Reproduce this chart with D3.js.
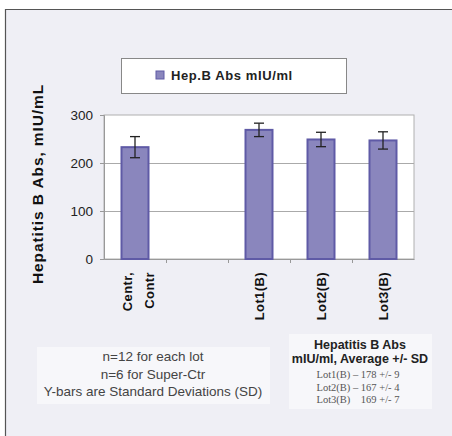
<!DOCTYPE html>
<html>
<head>
<meta charset="utf-8">
<script src="https://cdn.jsdelivr.net/npm/d3@7/dist/d3.min.js"></script>
<style>
  body { margin: 0; background: #fff; }
  svg { display: block; font-family: "Liberation Sans", Arial, sans-serif; }
</style>
</head>
<body>
<div id="chart"></div>
<script>
// data
const categories = ["Centr,\nContr", "", "Lot1(B)", "Lot2(B)", "Lot3(B)"];
const values = [233, null, 269, 249, 247];
const errors = [22, null, 14, 15, 18];
const yTicks = [0, 100, 200, 300];
const legendLabel = "Hep.B Abs mIU/ml";
const yLabel = "Hepatitis B Abs, mIU/mL";
const noteLines = ["n=12 for each lot", "n=6 for Super-Ctr", "Y-bars are Standard Deviations (SD)"];
const summaryTitle = ["Hepatitis B Abs", "mIU/ml, Average +/- SD"];
const summaryLines = ["Lot1(B) \u2013 178 +/- 9", "Lot2(B) \u2013 167 +/- 4", "Lot3(B)    169 +/- 7"];

const W = 452, H = 436;
const svg = d3.select("#chart").append("svg").attr("width", W).attr("height", H);

// outer panel
svg.append("rect").attr("x", 5).attr("y", 9).attr("width", W - 5).attr("height", H - 9)
    .attr("fill", "#efeff5");
svg.append("path").attr("d", `M5.5,${H}V9.5H${W}`).attr("fill", "none")
    .attr("stroke", "#555").attr("stroke-width", 1.2);

const plot = { left: 104, right: 414, top: 115, bottom: 259 };

const x = d3.scaleBand().domain(d3.range(categories.length))
    .range([plot.left, plot.right]).paddingInner(0).paddingOuter(0);
const y = d3.scaleLinear().domain([0, 300]).range([plot.bottom, plot.top]);

svg.append("rect").attr("x", plot.left).attr("y", plot.top)
    .attr("width", plot.right - plot.left).attr("height", plot.bottom - plot.top)
    .attr("fill", "#fff").attr("stroke", "#b0b0b0");

// gridlines
svg.append("g").selectAll("line").data(yTicks.filter(t => t > 0 && t < 300)).join("line")
    .attr("x1", plot.left).attr("x2", plot.right)
    .attr("y1", d => y(d) + 0.5).attr("y2", d => y(d) + 0.5)
    .attr("stroke", "#aaa");

// y axis
const yAxis = svg.append("g").attr("transform", `translate(${plot.left},0)`)
    .call(d3.axisLeft(y).tickValues(yTicks).tickSize(4).tickPadding(7));
yAxis.select(".domain").attr("stroke", "#999");
yAxis.selectAll(".tick line").attr("stroke", "#999");
yAxis.selectAll("text").attr("font-size", 13.5).attr("fill", "#222")
    .attr("font-family", "Liberation Sans, Arial, sans-serif");

// x axis
const xAxis = svg.append("g").attr("transform", `translate(0,${plot.bottom})`)
    .call(d3.axisBottom(x).tickValues([]).tickSize(0));
xAxis.select(".domain").attr("stroke", "#999");
svg.append("g").selectAll("line").data(d3.range(1, categories.length)).join("line")
    .attr("x1", d => x(d) + 0.5).attr("x2", d => x(d) + 0.5)
    .attr("y1", plot.bottom).attr("y2", plot.bottom + 4).attr("stroke", "#999");

// category labels, rotated
const catG = svg.append("g").selectAll("text").data(categories.map((c, i) => ({ c, i })))
    .join("text")
    .attr("transform", d => `translate(${x(d.i) + x.bandwidth() / 2},272) rotate(-90)`)
    .attr("text-anchor", "end").attr("font-size", 13).attr("font-weight", "bold").attr("fill", "#111")
    .attr("letter-spacing", 0.4);
catG.each(function(d) {
    const lines = d.c.split("\n");
    const t = d3.select(this);
    lines.forEach((l, k) => {
        t.append("tspan").attr("x", 0)
            .attr("dy", k === 0 ? (lines.length > 1 ? -3 : 5) : 22)
            .text(l);
    });
});

// bars
const barW = 27;
const data = values.map((v, i) => ({ v, e: errors[i], i })).filter(d => d.v != null);
svg.append("g").selectAll("rect").data(data).join("rect")
    .attr("x", d => x(d.i) + x.bandwidth() / 2 - barW / 2)
    .attr("y", d => y(d.v))
    .attr("width", barW).attr("height", d => y(0) - y(d.v))
    .attr("fill", "#8a86bd").attr("stroke", "#5f5aa6").attr("stroke-width", 2);

// error bars
const eb = svg.append("g").attr("stroke", "#222").attr("stroke-width", 1.3);
data.forEach(d => {
    const cx = x(d.i) + x.bandwidth() / 2;
    eb.append("line").attr("x1", cx).attr("x2", cx).attr("y1", y(d.v + d.e)).attr("y2", y(d.v - d.e));
    eb.append("line").attr("x1", cx - 5).attr("x2", cx + 5).attr("y1", y(d.v + d.e)).attr("y2", y(d.v + d.e));
    eb.append("line").attr("x1", cx - 5).attr("x2", cx + 5).attr("y1", y(d.v - d.e)).attr("y2", y(d.v - d.e));
});

// y label
svg.append("text").attr("transform", `translate(43,184) rotate(-90)`)
    .attr("text-anchor", "middle").attr("font-size", 15.5).attr("font-weight", "bold").attr("fill", "#111")
    .attr("letter-spacing", 0.9)
    .text(yLabel);

// legend
const lg = svg.append("g");
lg.append("rect").attr("x", 121.5).attr("y", 58.5).attr("width", 225).attr("height", 35)
    .attr("fill", "#fff").attr("stroke", "#888");
lg.append("rect").attr("x", 156).attr("y", 71).attr("width", 8).attr("height", 8)
    .attr("fill", "#8a86bd").attr("stroke", "#5f5aa6");
lg.append("text").attr("x", 171).attr("y", 80).attr("font-size", 13).attr("font-weight", "bold")
    .attr("fill", "#222").attr("letter-spacing", 0.6).text(legendLabel);

// note box
const nb = svg.append("g");
nb.append("rect").attr("x", 37).attr("y", 347).attr("width", 233).attr("height", 57).attr("fill", "#f7f7fa");
nb.selectAll("text").data(noteLines).join("text")
    .attr("x", 153).attr("y", (d, i) => 361 + i * 17.5)
    .attr("text-anchor", "middle").attr("font-size", 13.5).attr("fill", "#444").text(d => d);

// summary box
const sb = svg.append("g");
sb.append("rect").attr("x", 289).attr("y", 334).attr("width", 143).attr("height", 75).attr("fill", "#f7f7fa");
sb.selectAll("text.t").data(summaryTitle).join("text").attr("class", "t")
    .attr("x", 360).attr("y", (d, i) => 349 + i * 14)
    .attr("text-anchor", "middle").attr("font-size", 12.5).attr("font-weight", "bold").attr("fill", "#222")
    .text(d => d);
sb.selectAll("text.s").data(summaryLines).join("text").attr("class", "s")
    .attr("x", 358).attr("y", (d, i) => 378 + i * 12.5)
    .attr("text-anchor", "middle").attr("font-size", 10.5).attr("fill", "#555")
    .attr("font-family", "Liberation Serif, serif").attr("xml:space", "preserve")
    .style("white-space", "pre")
    .text(d => d);
</script>
</body>
</html>
